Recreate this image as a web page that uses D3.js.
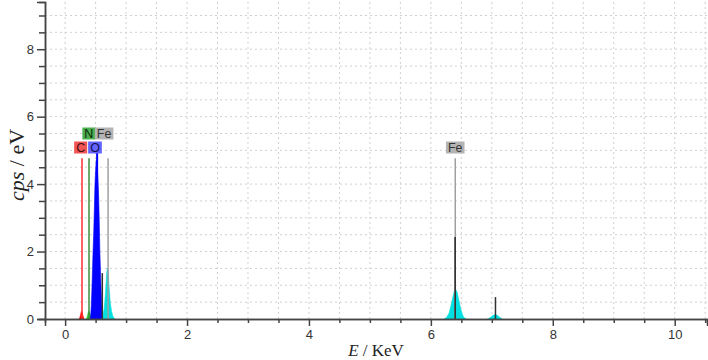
<!DOCTYPE html>
<html>
<head>
<meta charset="utf-8">
<script src="https://cdn.jsdelivr.net/npm/d3@7.9.0/dist/d3.min.js"></script>
<style>
  body { margin: 0; background: #fff; }
  svg { display: block; }
</style>
</head>
<body>
<svg id="chart" width="708" height="360"></svg>
<script>
// ---------- DATA ----------
// spectrum segments, [energy keV, cps/eV]
const specC = [[0.23,0],[0.24,0.04],[0.25,0.1],[0.26,0.18],[0.27,0.24],[0.28,0.2],[0.29,0.12],[0.30,0.05],[0.31,0]];
const specN = [[0.35,0],[0.36,0.05],[0.37,0.12],[0.38,0.2],[0.39,0.24],[0.40,0.2],[0.41,0.15],[0.42,0.08],[0.43,0.03],[0.44,0]];
const specO = [[0.41,0],[0.42,0.1],[0.43,0.4],[0.44,0.9],[0.45,1.5],[0.46,2.1],[0.47,2.6],[0.48,3.3],[0.49,4.0],
  [0.50,4.4],[0.51,4.7],[0.52,4.6],[0.53,4.4],[0.54,4.1],[0.55,3.6],[0.56,2.9],[0.57,2.0],[0.58,1.4],[0.59,0.9],
  [0.60,0.5],[0.61,0.25],[0.62,0.08],[0.63,0]];
const specFeL = [[0.60,0],[0.62,0.1],[0.64,0.3],[0.66,0.7],[0.67,1.0],[0.68,1.3],[0.69,1.5],[0.70,1.45],[0.71,1.3],
  [0.72,1.0],[0.73,0.75],[0.74,0.5],[0.76,0.25],[0.78,0.1],[0.80,0.03],[0.82,0]];
const specFeKa = [[6.22,0],[6.26,0.05],[6.30,0.18],[6.33,0.4],[6.36,0.65],[6.39,0.85],[6.41,0.87],[6.43,0.8],
  [6.46,0.55],[6.49,0.3],[6.52,0.12],[6.55,0.03],[6.58,0]];
const specFeKb = [[6.93,0],[6.97,0.04],[7.01,0.1],[7.05,0.13],[7.09,0.11],[7.13,0.05],[7.17,0]];

const spectra = [specC, specN, specO, specFeL, specFeKa, specFeKb];
const spectraColor = ["#ff0000", "#22cc22", "#0000ff", "#00e0e0", "#00e0e0", "#00e0e0"];

// dark single channel spikes
const spikeE = [0.61, 6.40, 7.06];
const spikeV = [1.36, 2.43, 0.65];

// element markers
const markerName = ["C", "N", "O", "Fe", "Fe"];
const markerE = [0.277, 0.392, 0.525, 0.705, 6.40];
const markerTop = [4.77, 4.77, 4.95, 4.77, 4.77];
const labelE = [0.255, 0.39, 0.49, 0.64, 6.40];
const labelRow = [0, 1, 0, 1, 0];
const markerColor = ["#ff3030", "#3c8c3c", "#0000ff", "#a0a0a0", "#a0a0a0"];
const boxColor = ["#f25555", "#4caf50", "#6464ff", "#b4b4b4", "#b4b4b4"];
const boxText = ["#401010", "#0b2a0b", "#101050", "#333333", "#333333"];

const xTicks = d3.range(0, 10.51, 0.5);
const yTicks = d3.range(0, 9.01, 0.5);

// ---------- SCALES ----------
const svg = d3.select("#chart");
const x = d3.scaleLinear().domain([-0.33, 10.53]).range([45, 707]);
const y = d3.scaleLinear().domain([0, 9.4]).range([319, 2]);

// grid
svg.append("g").selectAll("line")
  .data(xTicks)
  .join("line")
  .attr("x1", d => x(d)).attr("x2", d => x(d))
  .attr("y1", y(0)).attr("y2", y(9.4))
  .attr("stroke", "#d0d0d0")
  .attr("stroke-dasharray", "2,3");

svg.append("g").selectAll("line")
  .data(yTicks.filter(d => d > 0))
  .join("line")
  .attr("x1", x(-0.33)).attr("x2", x(10.53))
  .attr("y1", d => y(d)).attr("y2", d => y(d))
  .attr("stroke", "#d0d0d0")
  .attr("stroke-dasharray", "2,3");

// ---------- SPECTRUM ----------
const area = d3.area()
  .x(d => x(d[0]))
  .y0(y(0))
  .y1(d => y(d[1]));

svg.append("g").selectAll("path")
  .data(spectra)
  .join("path")
  .attr("d", area)
  .attr("fill", (_, i) => spectraColor[i])
  .attr("stroke", (_, i) => spectraColor[i])
  .attr("stroke-width", 0.6);

svg.append("g").selectAll("line")
  .data(spikeE)
  .join("line")
  .attr("x1", d => x(d)).attr("x2", d => x(d))
  .attr("y1", y(0))
  .attr("y2", (_, i) => y(spikeV[i]))
  .attr("stroke", "#333")
  .attr("stroke-width", 1.5);

// markers
svg.append("g").selectAll("line")
  .data(markerE)
  .join("line")
  .attr("x1", d => x(d)).attr("x2", d => x(d))
  .attr("y1", y(0))
  .attr("y2", (_, i) => y(markerTop[i]))
  .attr("stroke", (_, i) => markerColor[i])
  .attr("stroke-width", (_, i) => markerName[i] === "O" ? 2 : 1.5);

// the dark spike at Fe K sits over its marker
svg.append("line")
  .attr("x1", x(spikeE[1])).attr("x2", x(spikeE[1]))
  .attr("y1", y(0)).attr("y2", y(spikeV[1]))
  .attr("stroke", "#333").attr("stroke-width", 1.5);

const labels = svg.append("g").selectAll("g")
  .data(markerName)
  .join("g")
  .attr("transform", (_, i) => `translate(${x(labelE[i])},${labelRow[i] ? 133.5 : 147.5})`);

labels.append("text")
  .attr("text-anchor", "middle")
  .attr("dy", "0.36em")
  .attr("font-family", "Liberation Sans, Arial, sans-serif")
  .attr("font-size", 12.5)
  .attr("fill", (_, i) => boxText[i])
  .text(d => d)
  .each(function (d, i) {
    const w = this.getComputedTextLength() + 4;
    d3.select(this.parentNode).insert("rect", "text")
      .attr("x", -w / 2).attr("y", -6)
      .attr("width", w).attr("height", 12)
      .attr("fill", boxColor[i]);
  });

// ---------- AXES ----------
const axisColor = "#444";

const gx = svg.append("g").attr("transform", `translate(0,${y(0)})`);
gx.append("g")
  .call(d3.axisBottom(x).tickValues(xTicks.filter(d => d % 2 !== 0)).tickSize(4).tickFormat(""));
gx.append("g")
  .call(d3.axisBottom(x).tickValues([0, 2, 4, 6, 8, 10]).tickSize(7).tickPadding(4).tickFormat(d3.format("d")));

const gy = svg.append("g").attr("transform", `translate(${x(-0.33)},0)`);
gy.append("g")
  .call(d3.axisLeft(y).tickValues(yTicks.filter(d => d % 2 !== 0)).tickSize(6).tickFormat(""));
gy.append("g")
  .call(d3.axisLeft(y).tickValues([0, 2, 4, 6, 8]).tickSize(8).tickPadding(3).tickFormat(d3.format("d")));

svg.selectAll(".domain").attr("stroke", axisColor).attr("stroke-width", 1.5);
svg.selectAll(".tick line").attr("stroke", axisColor).attr("stroke-width", 1.5);
svg.selectAll(".tick text")
  .attr("font-family", "Liberation Sans, Arial, sans-serif")
  .attr("font-size", 13)
  .attr("fill", "#333");

// axis titles
const yTitle = svg.append("text")
  .attr("transform", `translate(24,165) rotate(-90)`)
  .attr("text-anchor", "middle")
  .attr("font-family", "Liberation Serif, Times New Roman, serif")
  .attr("font-size", 22)
  .attr("fill", "#222");
yTitle.append("tspan").attr("font-style", "italic").text("cps");
yTitle.append("tspan").text(" / eV");

const xTitle = svg.append("text")
  .attr("x", 376).attr("y", 356)
  .attr("text-anchor", "middle")
  .attr("font-family", "Liberation Serif, Times New Roman, serif")
  .attr("font-size", 17)
  .attr("fill", "#222");
xTitle.append("tspan").attr("font-style", "italic").text("E");
xTitle.append("tspan").text(" / KeV");
</script>
</body>
</html>
